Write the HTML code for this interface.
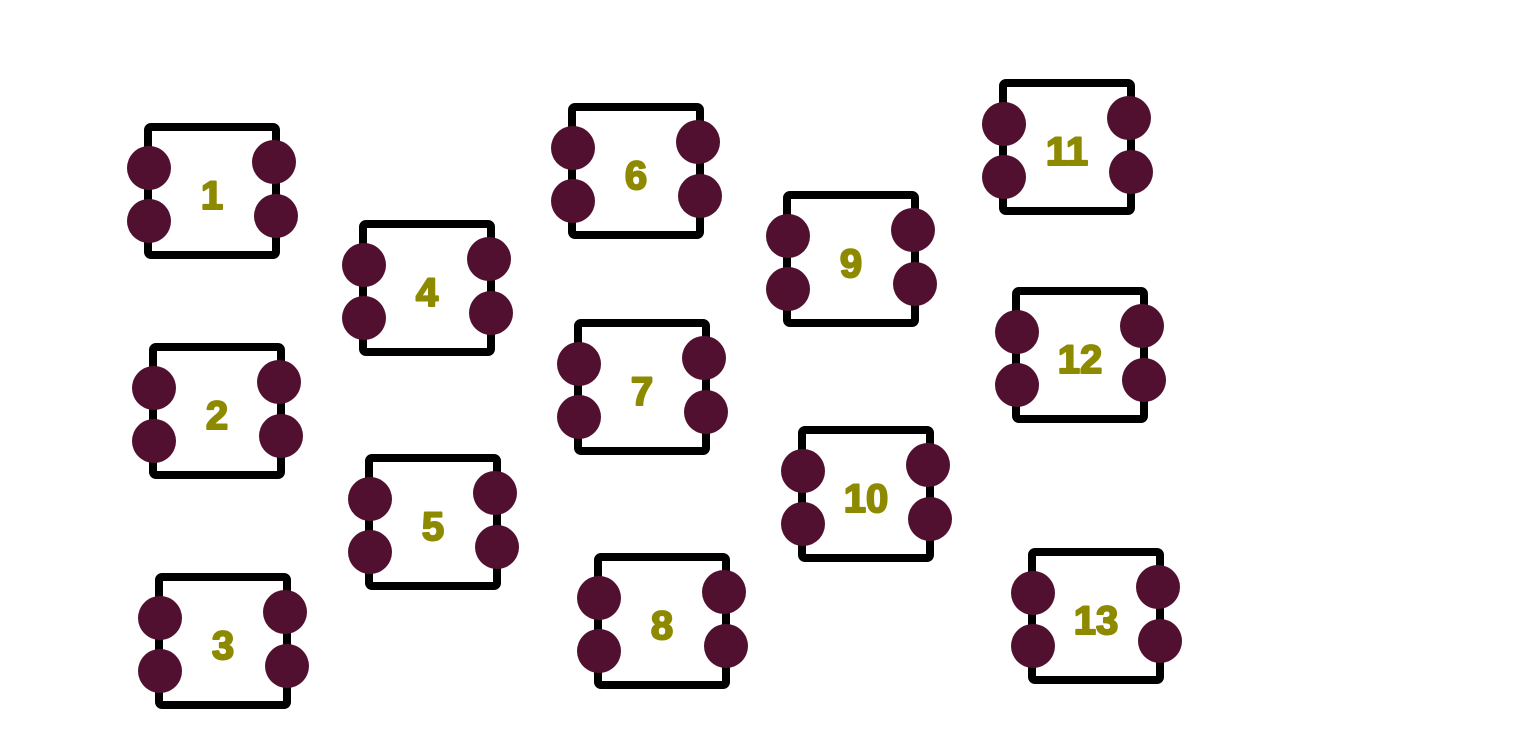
<!DOCTYPE html>
<html>
<head>
<meta charset="utf-8">
<style>
html,body{margin:0;padding:0;background:#fff;}
svg{display:block;}
</style>
</head>
<body>
<svg id="diagram" width="1536" height="744" viewBox="0 0 1536 744" xmlns="http://www.w3.org/2000/svg">
<rect x="0" y="0" width="1536" height="744" fill="#ffffff"/>
</svg>
<script>
const labels = ["1","2","3","4","5","6","7","8","9","10","11","12","13"];
const boxLeft = [148,153,159,363,369,572,578,598,787,802,1003,1016,1032];
const boxTop = [127,347,577,224,458,107,323,557,195,430,83,291,552];
const boxW = 128, boxH = 128;
const svg = document.getElementById('diagram');
const NS = 'http://www.w3.org/2000/svg';
function mk(tag, attrs){
  const e = document.createElementNS(NS, tag);
  for (const k in attrs) e.setAttribute(k, attrs[k]);
  return e;
}
labels.forEach((lab, i) => {
  const x = boxLeft[i], y = boxTop[i];
  const g = mk('g', {});
  
  
  const r = mk('rect', {x:x, y:y, width:boxW, height:boxH, rx:3, fill:'none', stroke:'#000', 'stroke-width':8});
  
  
  g.appendChild(r);
  const pins = [[x+1, y+41],[x+1, y+94],[x+boxW-2, y+35],[x+boxW, y+89]];
  pins.forEach(p => {
    const c = mk('circle', {cx:p[0], cy:p[1], r:22, fill:'#521030'});
    
    
    g.appendChild(c);
  });
  const t = mk('text', {x:x+boxW/2, y:y+boxH/2+18, 'text-anchor':'middle', 'font-family':'Liberation Sans, sans-serif', 'font-weight':'bold', 'font-size':40, fill:'#8e8a00', stroke:'#8e8a00', 'stroke-width':2, 'stroke-linejoin':'round'});
  
  
  t.textContent = lab;
  g.appendChild(t);
  svg.appendChild(g);
});
</script>
</body>
</html>
